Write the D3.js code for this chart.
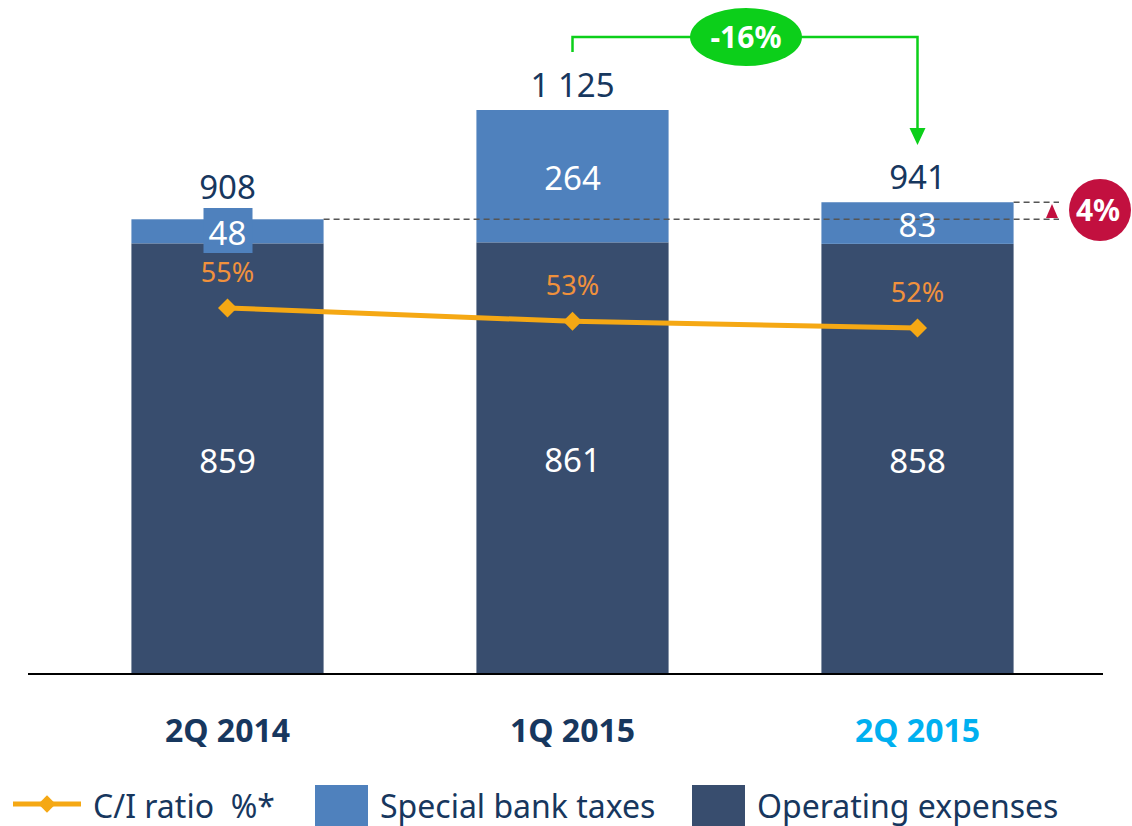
<!DOCTYPE html>
<html>
<head>
<meta charset="utf-8">
<script src="https://cdn.jsdelivr.net/npm/d3@7"></script>
<style>
  body { margin: 0; background: #fff; }
  svg { display: block; font-family: "Noto Sans", "Open Sans", sans-serif; }
</style>
</head>
<body>
<div id="chart"></div>
<script>
var width = 1132;
var height = 826;

// data
var categories = ['2Q 2014', '1Q 2015', '2Q 2015'];
var opex = [859, 861, 858];
var taxes = [48, 264, 83];
var totals = ['908', '1 125', '941'];
var ratio = [55, 53, 52];

var navy = '#17375e';
var darkBar = '#384d6e';
var lightBar = '#4f81bd';
var orange = '#f5a814';
var green = '#0ccf1a';
var red = '#c2103f';

// label offsets above the bar tops (layout only)
var totalGap = [20, 13, 13];

var svg = d3.select('#chart').append('svg')
  .attr('width', width)
  .attr('height', height);

var x = d3.scaleBand()
  .domain(categories)
  .range([55, 1090])
  .paddingInner(0.443)
  .paddingOuter(0.2215);

var y = d3.scaleLinear()
  .domain([0, 1125])
  .range([674, 110]);

var yr = d3.scaleLinear()
  .domain([52, 55])
  .range([328, 308]);

function cx(i) { return x(categories[i]) + x.bandwidth() / 2; }

// bars
svg.selectAll('rect.opex')
  .data(opex)
  .enter().append('rect')
  .attr('x', function (d, i) { return x(categories[i]); })
  .attr('y', function (d) { return y(d); })
  .attr('width', x.bandwidth())
  .attr('height', function (d) { return y(0) - y(d); })
  .attr('fill', darkBar);

svg.selectAll('rect.tax')
  .data(taxes)
  .enter().append('rect')
  .attr('x', function (d, i) { return x(categories[i]); })
  .attr('y', function (d, i) { return y(opex[i] + d); })
  .attr('width', x.bandwidth())
  .attr('height', function (d, i) { return y(opex[i]) - y(opex[i] + d); })
  .attr('fill', lightBar);

// axis line
svg.append('line')
  .attr('x1', 28).attr('x2', 1103)
  .attr('y1', y(0)).attr('y2', y(0))
  .attr('stroke', '#000')
  .attr('stroke-width', 2);

// category labels
svg.selectAll('text.cat')
  .data(categories)
  .enter().append('text')
  .attr('x', function (d, i) { return cx(i); })
  .attr('y', 742)
  .attr('text-anchor', 'middle')
  .style('font-size', '32px')
  .style('font-weight', 'bold')
  .style('fill', function (d, i) { return i == 2 ? '#00b0f0' : navy; })
  .text(function (d) { return d; });

// dashed reference lines
var dash = svg.append('g')
  .attr('stroke', '#555')
  .attr('stroke-width', 1.5)
  .attr('stroke-dasharray', '6,4');
dash.append('line')
  .attr('x1', x(categories[0]) + x.bandwidth()).attr('x2', 1059)
  .attr('y1', y(opex[0] + taxes[0])).attr('y2', y(opex[0] + taxes[0]));
dash.append('line')
  .attr('x1', x(categories[2]) + x.bandwidth()).attr('x2', 1059)
  .attr('y1', y(opex[2] + taxes[2])).attr('y2', y(opex[2] + taxes[2]));

// label box for the small tax value
svg.append('rect')
  .attr('x', cx(0) - 24).attr('y', 208)
  .attr('width', 49).attr('height', 45)
  .attr('fill', lightBar);

// values inside bars
svg.selectAll('text.opex')
  .data(opex)
  .enter().append('text')
  .attr('x', function (d, i) { return cx(i); })
  .attr('y', function (d) { return (y(0) + y(d)) / 2 + 14; })
  .attr('text-anchor', 'middle')
  .style('font-size', '33px')
  .style('fill', '#fff')
  .text(function (d) { return d; });

var taxLabelY = [245, 0, 237];
svg.selectAll('text.tax')
  .data(taxes)
  .enter().append('text')
  .attr('x', function (d, i) { return cx(i); })
  .attr('y', function (d, i) { return i == 1 ? (y(opex[i]) + y(opex[i] + d)) / 2 + 14 : taxLabelY[i]; })
  .attr('text-anchor', 'middle')
  .style('font-size', '33px')
  .style('fill', '#fff')
  .text(function (d) { return d; });

// totals
svg.selectAll('text.total')
  .data(totals)
  .enter().append('text')
  .attr('x', function (d, i) { return cx(i); })
  .attr('y', function (d, i) { return y(opex[i] + taxes[i]) - totalGap[i]; })
  .attr('text-anchor', 'middle')
  .style('font-size', '33px')
  .style('fill', navy)
  .text(function (d) { return d; });

// C/I ratio line
var line = d3.line()
  .x(function (d, i) { return cx(i); })
  .y(function (d) { return yr(d); });

svg.append('path')
  .datum(ratio)
  .attr('d', line)
  .attr('fill', 'none')
  .attr('stroke', orange)
  .attr('stroke-width', 5);

svg.selectAll('path.marker')
  .data(ratio)
  .enter().append('path')
  .attr('d', d3.symbol().type(d3.symbolSquare).size(180))
  .attr('transform', function (d, i) { return 'translate(' + cx(i) + ',' + yr(d) + ') rotate(45)'; })
  .attr('fill', orange);

svg.selectAll('text.ratio')
  .data(ratio)
  .enter().append('text')
  .attr('x', function (d, i) { return cx(i); })
  .attr('y', function (d) { return yr(d) - 26; })
  .attr('text-anchor', 'middle')
  .style('font-size', '27px')
  .style('fill', '#f0913c')
  .text(function (d) { return d + '%'; });

// -16% bracket
var br = svg.append('g');
br.append('path')
  .attr('d', 'M' + cx(1) + ',52 V37 H' + cx(2) + ' V130')
  .attr('fill', 'none')
  .attr('stroke', green)
  .attr('stroke-width', 2.5);
br.append('path')
  .attr('d', 'M' + (cx(2) - 8) + ',128 L' + (cx(2) + 8) + ',128 L' + cx(2) + ',145 Z')
  .attr('fill', green);
br.append('ellipse')
  .attr('cx', (cx(1) + cx(2)) / 2 + 1).attr('cy', 37)
  .attr('rx', 56).attr('ry', 29)
  .attr('fill', green);
br.append('text')
  .attr('x', (cx(1) + cx(2)) / 2 + 1).attr('y', 48)
  .attr('text-anchor', 'middle')
  .style('font-size', '30px')
  .style('font-weight', 'bold')
  .style('fill', '#fff')
  .text('-16%');

// +4% marker
svg.append('path')
  .attr('d', 'M1046,218 L1058,218 L1052,204 Z')
  .attr('fill', red);
svg.append('circle')
  .attr('cx', 1100).attr('cy', 210).attr('r', 31)
  .attr('fill', red);
svg.append('text')
  .attr('x', 1098).attr('y', 221)
  .attr('text-anchor', 'middle')
  .style('font-size', '30px')
  .style('font-weight', 'bold')
  .style('fill', '#fff')
  .text('4%');

// legend
var lg = svg.append('g');
lg.append('line')
  .attr('x1', 13).attr('x2', 81).attr('y1', 804).attr('y2', 804)
  .attr('stroke', orange).attr('stroke-width', 5);
lg.append('path')
  .attr('d', d3.symbol().type(d3.symbolSquare).size(150))
  .attr('transform', 'translate(47,804) rotate(45)')
  .attr('fill', orange);
lg.append('text')
  .attr('x', 93).attr('y', 818)
  .style('font-size', '32px').style('fill', navy)
  .attr('xml:space', 'preserve')
  .text('C/I ratio  %*');
lg.append('rect')
  .attr('x', 315).attr('y', 785).attr('width', 53).attr('height', 41)
  .attr('fill', lightBar);
lg.append('text')
  .attr('x', 380).attr('y', 818)
  .style('font-size', '32px').style('fill', navy)
  .text('Special bank taxes');
lg.append('rect')
  .attr('x', 692).attr('y', 785).attr('width', 53).attr('height', 41)
  .attr('fill', darkBar);
lg.append('text')
  .attr('x', 757).attr('y', 818)
  .style('font-size', '32px').style('fill', navy)
  .text('Operating expenses');
</script>
</body>
</html>
